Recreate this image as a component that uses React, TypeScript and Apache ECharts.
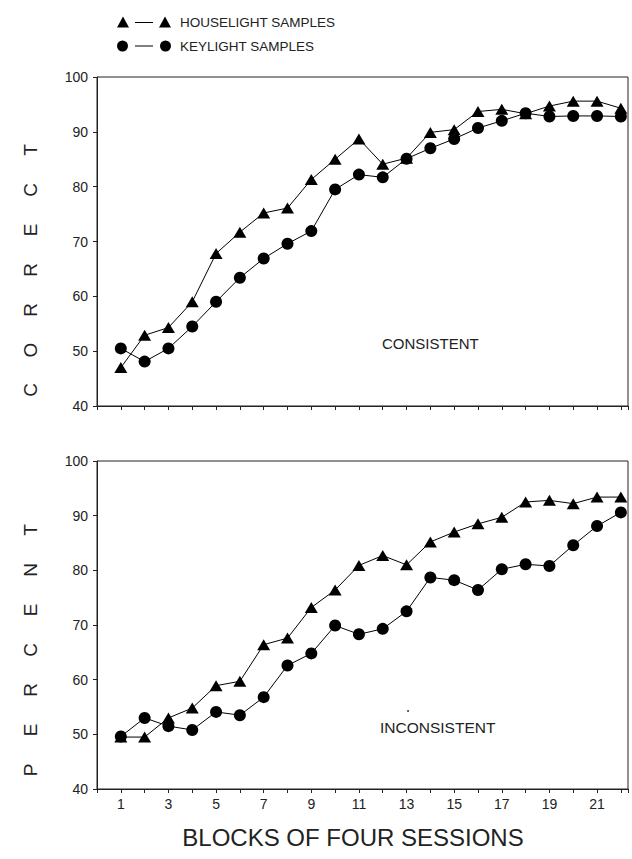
import React, { useEffect, useRef } from "react";
import * as echarts from "echarts";

const blocks = [1, 2, 3, 4, 5, 6, 7, 8, 9, 10, 11, 12, 13, 14, 15, 16, 17, 18, 19, 20, 21, 22];
const consistentHouse = [47.0, 52.9, 54.3, 59.0, 67.8, 71.7, 75.2, 76.1, 81.3, 85.0, 88.7, 84.1, 85.2, 89.9, 90.4, 93.7, 94.1, 93.3, 94.7, 95.6, 95.6, 94.3];
const consistentKey = [50.5, 48.1, 50.5, 54.5, 59.0, 63.4, 66.9, 69.6, 71.9, 79.5, 82.2, 81.7, 85.1, 87.0, 88.7, 90.7, 92.0, 93.4, 92.8, 92.9, 92.9, 92.8];
const inconsistentHouse = [49.5, 49.5, 53.0, 54.8, 58.9, 59.7, 66.4, 67.6, 73.2, 76.4, 80.9, 82.7, 81.0, 85.2, 87.0, 88.5, 89.7, 92.5, 92.8, 92.2, 93.4, 93.4];
const inconsistentKey = [49.6, 53.0, 51.5, 50.8, 54.1, 53.5, 56.8, 62.6, 64.8, 69.9, 68.3, 69.3, 72.5, 78.7, 78.2, 76.4, 80.2, 81.1, 80.8, 84.6, 88.1, 90.6];
const seriesNames = ["HOUSELIGHT SAMPLES", "KEYLIGHT SAMPLES"];
const panelLabels = ["CONSISTENT", "INCONSISTENT"];
const xTitle = "BLOCKS OF FOUR SESSIONS";
const yTitleLower = "PERCENT";
const yTitleUpper = "CORRECT";

const FONT = "'Liberation Sans', Arial, sans-serif";
const INK = "#222";

const triIcon = "path://M0,12 L6,1 L12,12 Z M18,6.5 L36,6.5 L36,7.5 L18,7.5 Z M42,12 L48,1 L54,12 Z";
const dotIcon = "path://M0,6.5 A5.5,5.5 0 1,0 11,6.5 A5.5,5.5 0 1,0 0,6.5 Z M18,6 L36,6 L36,7 L18,7 Z M43,6.5 A5.5,5.5 0 1,0 54,6.5 A5.5,5.5 0 1,0 43,6.5 Z";

function pairs(vals: number[]) {
  return blocks.map((b, i) => [b, vals[i]]);
}

function yTitleLetters() {
  const els: any[] = [];
  const up = yTitleUpper.split("");
  const low = yTitleLower.split("");
  const upStart = 390;
  const lowStart = 770;
  const step = 40;
  low.forEach((ch, i) => {
    els.push({
      type: "text",
      x: 30,
      y: lowStart - i * step,
      rotation: Math.PI / 2,
      style: { text: ch, font: `19px ${FONT}`, fill: INK, align: "center", verticalAlign: "middle" },
    });
  });
  up.forEach((ch, i) => {
    els.push({
      type: "text",
      x: 30,
      y: upStart - i * step,
      rotation: Math.PI / 2,
      style: { text: ch, font: `19px ${FONT}`, fill: INK, align: "center", verticalAlign: "middle" },
    });
  });
  return els;
}

export default function App() {
  const ref = useRef<HTMLDivElement>(null);
  useEffect(() => {
    if (!ref.current) return;
    const chart = echarts.init(ref.current, undefined, { renderer: "svg" });
    const xAxisBase = (gridIndex: number, showLabels: boolean) => ({
      type: "value",
      gridIndex,
      min: 0,
      max: 22.3,
      interval: 1,
      axisLine: { show: true, lineStyle: { color: INK, width: 1 } },
      axisTick: { show: true, inside: false, length: 4, lineStyle: { color: INK } },
      axisLabel: {
        show: showLabels,
        fontFamily: FONT,
        fontSize: 14,
        color: INK,
        margin: 8,
        formatter: (v: number) => (v % 2 === 1 ? String(v) : ""),
      },
      splitLine: { show: false },
    });
    const yAxisBase = (gridIndex: number) => ({
      type: "value",
      gridIndex,
      min: 40,
      max: 100,
      interval: 10,
      axisLine: { show: true, lineStyle: { color: INK, width: 1 } },
      axisTick: { show: true, inside: false, length: 4, lineStyle: { color: INK } },
      axisLabel: { fontFamily: FONT, fontSize: 14, color: INK, margin: 9 },
      splitLine: { show: false },
    });
    const lineSeries = (name: string, idx: number, vals: number[], tri: boolean) => ({
      type: "line",
      name,
      xAxisIndex: idx,
      yAxisIndex: idx,
      data: pairs(vals),
      symbol: tri ? "triangle" : "circle",
      symbolSize: tri ? [13, 11] : 12,
      itemStyle: { color: "#000" },
      lineStyle: { color: "#000", width: 1 },
      z: tri ? 3 : 2,
    });
    chart.setOption({
      animation: false,
      backgroundColor: "#fff",
      grid: [
        { left: 97, top: 77, width: 531, height: 329, show: true, borderColor: INK, borderWidth: 1, containLabel: false },
        { left: 97, top: 461, width: 531, height: 328, show: true, borderColor: INK, borderWidth: 1, containLabel: false },
      ],
      xAxis: [xAxisBase(0, false), xAxisBase(1, true)],
      yAxis: [yAxisBase(0), yAxisBase(1)],
      legend: {
        orient: "vertical",
        left: 112,
        top: 10,
        itemWidth: 54,
        itemHeight: 12,
        itemGap: 10,
        textStyle: { fontFamily: FONT, fontSize: 13.5, color: INK, padding: [0, 0, 0, 4] },
        data: [
          { name: seriesNames[0], icon: triIcon },
          { name: seriesNames[1], icon: dotIcon },
        ],
      },
      series: [
        lineSeries(seriesNames[0], 0, consistentHouse, true),
        lineSeries(seriesNames[1], 0, consistentKey, false),
        lineSeries(seriesNames[0], 1, inconsistentHouse, true),
        lineSeries(seriesNames[1], 1, inconsistentKey, false),
      ],
      graphic: [
        {
          type: "text",
          x: 382,
          y: 343,
          style: { text: panelLabels[0], font: `15px ${FONT}`, fill: INK, align: "left", verticalAlign: "middle" },
        },
        {
          type: "circle",
          shape: { cx: 408, cy: 711, r: 0.9 },
          style: { fill: INK },
        },
        {
          type: "text",
          x: 380,
          y: 727,
          style: { text: panelLabels[1], font: `15.5px ${FONT}`, fill: INK, align: "left", verticalAlign: "middle" },
        },
        {
          type: "text",
          x: 353,
          y: 837,
          style: { text: xTitle, font: `24px ${FONT}`, fill: INK, align: "center", verticalAlign: "middle" },
        },
        ...yTitleLetters(),
      ],
    });
    return () => chart.dispose();
  }, []);
  return <div ref={ref} style={{ width: 632, height: 859, position: "absolute", left: 0, top: 0 }} />;
}
